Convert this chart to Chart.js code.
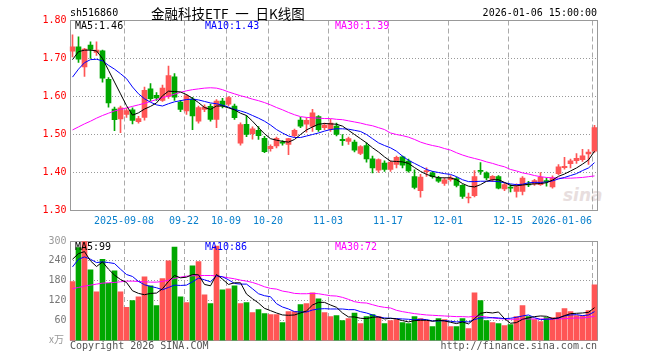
<!DOCTYPE html>
<html>
<head>
<meta charset="utf-8">
<script src="https://cdn.jsdelivr.net/npm/chart.js@4.4.1/dist/chart.umd.min.js"></script>
<style>
  html, body { margin: 0; padding: 0; background: #fff; }
  #wrap { position: relative; width: 660px; height: 360px; overflow: hidden; }
  canvas { position: absolute; left: 0; z-index: 1; }
  #priceCanvas { top: 0; }
  #volCanvas { top: 232px; }
  .t { position: absolute; z-index: 2; white-space: pre; font-family: "DejaVu Sans Mono", monospace;
       font-size: 10px; line-height: 12px; }
  .wm { position: absolute; z-index: 0; font: italic bold 17px "DejaVu Sans", sans-serif; color: #e8dede; }
</style>
</head>
<body>
<div id="wrap">
  <div class="wm" style="left:563px;top:185px;">sina</div>
  <canvas id="priceCanvas" width="660" height="232"></canvas>
  <canvas id="volCanvas" width="660" height="128"></canvas>

  <div class="t" style="left:70px;top:7px;color:#000;">sh516860</div>
  <div class="t" style="left:151px;top:5px;font:13.5px/16px 'Noto Sans CJK SC',sans-serif;color:#000;">金融科技ETF&ensp;一&ensp;日K线图</div>
  <div class="t" style="right:63px;top:7px;color:#000;">2026-01-06 15:00:00</div>

  <div class="t" style="left:75px;top:20px;color:#000;">MA5:1.46</div>
  <div class="t" style="left:205px;top:20px;color:#0000ff;">MA10:1.43</div>
  <div class="t" style="left:335px;top:20px;color:#ff00ff;">MA30:1.39</div>

  <div class="t" style="left:75px;top:241px;color:#000;">MA5:99</div>
  <div class="t" style="left:205px;top:241px;color:#0000ff;">MA10:86</div>
  <div class="t" style="left:335px;top:241px;color:#ff00ff;">MA30:72</div>

  <div class="t" style="left:49px;top:333px;font:10px/12px 'Noto Sans CJK SC',sans-serif;color:#999;">x万</div>
  <div class="t" style="left:70px;top:340px;color:#555;">Copyright 2026 SINA.COM</div>
  <div class="t" style="right:63px;top:340px;color:#555;">http://finance.sina.com.cn</div>
</div>

<script>
// trading days shown on the chart
const dates = [
  '2025-08-26','2025-08-27','2025-08-28','2025-08-29',
  '2025-09-01','2025-09-02','2025-09-03','2025-09-04','2025-09-05',
  '2025-09-08','2025-09-09','2025-09-10','2025-09-11','2025-09-12',
  '2025-09-15','2025-09-16','2025-09-17','2025-09-18','2025-09-19',
  '2025-09-22','2025-09-23','2025-09-24','2025-09-25','2025-09-26',
  '2025-09-29','2025-09-30',
  '2025-10-09','2025-10-10',
  '2025-10-13','2025-10-14','2025-10-15','2025-10-16','2025-10-17',
  '2025-10-20','2025-10-21','2025-10-22','2025-10-23','2025-10-24',
  '2025-10-27','2025-10-28','2025-10-29','2025-10-30','2025-10-31',
  '2025-11-03','2025-11-04','2025-11-05','2025-11-06','2025-11-07',
  '2025-11-10','2025-11-11','2025-11-12','2025-11-13','2025-11-14',
  '2025-11-17','2025-11-18','2025-11-19','2025-11-20','2025-11-21',
  '2025-11-24','2025-11-25','2025-11-26','2025-11-27','2025-11-28',
  '2025-12-01','2025-12-02','2025-12-03','2025-12-04','2025-12-05',
  '2025-12-08','2025-12-09','2025-12-10','2025-12-11','2025-12-12',
  '2025-12-15','2025-12-16','2025-12-17','2025-12-18','2025-12-19',
  '2025-12-22','2025-12-23','2025-12-24','2025-12-25','2025-12-26',
  '2025-12-29','2025-12-30','2025-12-31',
  '2026-01-05','2026-01-06'
];

// dates with a vertical guide, and the text written under them
const tickDates = ['2025-09-08','2025-09-22','2025-10-09','2025-10-20','2025-11-03',
                   '2025-11-17','2025-12-01','2025-12-15','2026-01-06'];
const tickLabels = ['2025-09-08','09-22','10-09','10-20','11-03','11-17','12-01','12-15','2026-01-06'];

const open = [
  1.719,1.731,1.678,1.735,1.716,1.720,1.645,1.567,1.541,1.553,
  1.565,1.534,1.545,1.620,1.603,1.590,1.600,1.652,1.585,1.562,
  1.593,1.535,1.566,1.574,1.540,1.588,1.580,1.575,1.477,1.527,
  1.502,1.511,1.490,1.463,1.470,1.480,1.474,1.497,1.538,1.527,
  1.521,1.547,1.518,1.514,1.522,1.487,1.482,1.480,1.450,1.471,
  1.436,1.406,1.425,1.408,1.421,1.441,1.430,1.389,1.352,1.402,
  1.399,1.386,1.371,1.381,1.384,1.366,1.333,1.339,1.405,1.399,
  1.381,1.389,1.357,1.361,1.350,1.350,1.370,1.370,1.368,1.378,
  1.362,1.397,1.413,1.423,1.431,1.434,1.449,1.456
];
const high = [
  1.762,1.757,1.727,1.744,1.744,1.722,1.650,1.572,1.575,1.568,
  1.570,1.548,1.625,1.634,1.610,1.630,1.680,1.660,1.590,1.606,
  1.598,1.575,1.578,1.580,1.592,1.595,1.600,1.580,1.531,1.550,
  1.520,1.521,1.495,1.473,1.493,1.484,1.490,1.514,1.545,1.544,
  1.566,1.550,1.530,1.540,1.530,1.500,1.493,1.485,1.471,1.478,
  1.443,1.436,1.431,1.431,1.443,1.443,1.435,1.407,1.395,1.412,
  1.403,1.390,1.386,1.392,1.388,1.368,1.346,1.405,1.426,1.402,
  1.392,1.392,1.372,1.368,1.370,1.389,1.377,1.382,1.400,1.385,
  1.391,1.421,1.440,1.435,1.450,1.461,1.460,1.524
];
const low = [
  1.704,1.690,1.653,1.700,1.708,1.638,1.572,1.510,1.505,1.545,
  1.528,1.530,1.538,1.589,1.590,1.587,1.595,1.590,1.560,1.553,
  1.513,1.530,1.560,1.535,1.518,1.570,1.575,1.540,1.472,1.494,
  1.488,1.487,1.452,1.456,1.465,1.472,1.447,1.493,1.518,1.506,
  1.508,1.508,1.513,1.508,1.496,1.471,1.474,1.454,1.447,1.427,
  1.399,1.400,1.403,1.403,1.412,1.412,1.401,1.357,1.335,1.390,
  1.385,1.374,1.366,1.377,1.362,1.332,1.320,1.336,1.395,1.381,
  1.376,1.357,1.352,1.349,1.335,1.341,1.363,1.366,1.366,1.364,
  1.359,1.394,1.409,1.412,1.424,1.429,1.421,1.453
];
const close = [
  1.731,1.698,1.725,1.724,1.722,1.648,1.583,1.539,1.570,1.563,
  1.537,1.542,1.616,1.594,1.596,1.622,1.655,1.598,1.566,1.602,
  1.549,1.571,1.572,1.540,1.588,1.575,1.597,1.544,1.526,1.500,
  1.515,1.497,1.455,1.469,1.490,1.477,1.489,1.511,1.522,1.537,
  1.557,1.513,1.525,1.530,1.500,1.484,1.489,1.459,1.468,1.436,
  1.412,1.434,1.408,1.427,1.440,1.419,1.404,1.361,1.388,1.405,
  1.389,1.377,1.381,1.386,1.366,1.337,1.335,1.389,1.403,1.386,
  1.390,1.359,1.368,1.359,1.363,1.385,1.367,1.379,1.387,1.376,
  1.385,1.415,1.416,1.431,1.437,1.444,1.454,1.518
];

// moving averages
const ma5 = [
  1.697,1.718,1.722,1.722,1.720,1.700,1.669,1.638,1.607,1.576,1.551,1.557,1.567,1.574,1.583,
  1.602,1.614,1.613,1.612,1.605,1.595,1.584,1.571,1.566,1.575,1.575,1.570,1.565,1.556,
  1.550,1.535,1.518,1.502,1.489,1.485,1.482,1.480,1.487,1.500,1.512,1.520,1.527,1.529,1.528,
  1.527,1.522,1.511,1.500,1.489,1.478,1.465,1.454,1.441,1.430,1.429,1.428,1.424,1.413,1.403,
  1.395,1.390,1.386,1.386,1.386,1.381,1.371,1.364,1.362,1.368,1.377,1.381,1.381,1.374,1.366,
  1.365,1.367,1.369,1.370,1.371,1.373,1.380,1.390,1.396,1.404,1.412,1.422,1.433,1.456
];
const ma10 = [
  1.651,1.672,1.689,1.697,1.698,1.694,1.682,1.672,1.660,1.647,1.625,1.607,1.594,1.585,1.578,
  1.575,1.581,1.586,1.589,1.592,1.593,1.591,1.587,1.583,1.581,1.577,1.572,1.566,1.562,
  1.557,1.550,1.543,1.535,1.525,1.513,1.504,1.496,1.492,1.492,1.496,1.500,1.504,1.509,1.513,
  1.515,1.515,1.514,1.511,1.508,1.500,1.489,1.478,1.471,1.465,1.456,1.443,1.432,1.424,1.416,
  1.408,1.403,1.400,1.397,1.395,1.389,1.381,1.376,1.376,1.377,1.377,1.377,1.376,1.373,1.370,
  1.368,1.369,1.373,1.374,1.374,1.375,1.378,1.383,1.387,1.392,1.397,1.405,1.412,1.426
];
const ma30 = [
  1.512,1.520,1.528,1.535,1.543,1.550,1.556,1.562,1.566,1.570,1.574,1.578,1.582,1.587,1.592,
  1.597,1.601,1.606,1.611,1.615,1.618,1.620,1.622,1.623,1.622,1.618,1.612,1.607,1.602,
  1.598,1.593,1.589,1.584,1.578,1.571,1.565,1.558,1.552,1.547,1.545,1.544,1.543,1.542,1.542,
  1.540,1.539,1.536,1.533,1.530,1.526,1.523,1.518,1.513,1.504,1.500,1.497,1.493,1.487,1.480,
  1.475,1.471,1.468,1.463,1.459,1.452,1.446,1.441,1.437,1.433,1.428,1.424,1.419,1.415,1.408,
  1.404,1.399,1.396,1.392,1.389,1.387,1.386,1.385,1.385,1.385,1.386,1.387,1.389,1.391
];

// volume, in 万 shares
const volume = [
  178,280,298,213,147,245,172,210,147,100,
  120,132,192,165,105,187,240,282,132,114,
  225,238,138,111,285,153,156,165,111,114,
  84,93,81,78,78,54,87,87,108,111,
  144,126,84,72,75,60,66,83,51,72,
  78,72,51,60,63,54,51,72,66,60,
  42,66,63,42,42,66,36,144,120,60,
  54,51,45,48,72,105,72,63,57,69,
  69,84,96,87,75,75,90,168
];
const volMa5 = [
  245,262,268,240,223,237,215,197,184,175,150,142,138,142,143,156,178,196,189,191,
  199,198,169,165,199,185,169,174,174,140,126,113,97,90,83,77,76,77,83,89,
  107,115,115,107,100,83,71,71,67,66,70,71,65,67,65,60,56,60,61,61,
  58,61,59,55,51,56,50,66,82,85,83,86,66,52,54,64,68,72,74,73,
  66,68,75,81,82,83,85,99
];
const volMa10 = [
  222,245,252,245,235,237,235,232,215,199,193,178,168,163,159,153,160,167,166,167,
  177,188,183,177,195,192,183,172,170,170,156,141,135,132,111,101,95,87,86,86,
  92,95,96,95,95,95,93,93,87,83,77,71,68,67,66,65,64,62,64,63,
  59,59,60,58,56,57,56,63,68,68,69,68,66,67,70,74,77,69,63,64,
  65,68,74,77,78,75,77,87
];
const volMa30 = [
  156,160,164,167,170,173,174,175,177,179,179,178,177,176,176,178,182,187,191,194,
  195,196,196,196,195,192,189,186,182,179,175,169,162,157,155,149,146,142,141,141,
  142,141,138,135,134,130,124,117,114,113,108,103,100,98,91,87,84,81,79,77,
  76,75,74,73,72,72,71,73,73,71,68,66,65,64,64,65,65,65,65,65,
  65,65,66,67,68,68,70,73
];

const UP = '#ff5555';
const DOWN = '#00a800';
const barColors = close.map((c, i) => (c >= open[i] ? UP : DOWN));

Chart.defaults.font.family = '"DejaVu Sans Mono", monospace';
Chart.defaults.font.size = 10;

// dashed date guides and the grey frame of each panel
const panelPlugin = {
  id: 'panel',
  beforeDatasetsDraw(chart) {
    const { ctx, chartArea: a } = chart;
    const x = chart.scales.x;
    ctx.save();
    ctx.lineWidth = 1;
    ctx.strokeStyle = '#aaa';
    ctx.setLineDash([5, 3]);
    tickDates.forEach(d => {
      const px = Math.round(x.getPixelForValue(dates.indexOf(d)) - 2.5) + 0.5;
      ctx.beginPath();
      ctx.moveTo(px, a.top);
      ctx.lineTo(px, a.bottom);
      ctx.stroke();
    });
    ctx.setLineDash([]);
    ctx.strokeStyle = '#999';
    const x0 = Math.ceil(a.left) + 0.5, x1 = Math.floor(a.right) + 0.5;
    const y0 = Math.floor(a.top) + 0.5, y1 = Math.floor(a.bottom) + 0.5;
    ctx.strokeRect(x0, y0, x1 - x0, y1 - y0);
    ctx.restore();
  }
};

// date labels under the price panel
const dateLabelPlugin = {
  id: 'dateLabels',
  afterDraw(chart) {
    const { ctx, chartArea: a } = chart;
    const x = chart.scales.x;
    ctx.save();
    ctx.font = '10px "DejaVu Sans Mono", monospace';
    ctx.fillStyle = '#0a80cc';
    ctx.textBaseline = 'middle';
    tickDates.forEach((d, k) => {
      const px = Math.round(x.getPixelForValue(dates.indexOf(d)) - 2.5);
      ctx.textAlign = k === tickDates.length - 1 ? 'right' : 'center';
      ctx.fillText(tickLabels[k], px, a.bottom + 11);
    });
    ctx.restore();
  }
};

function maLine(data, color) {
  return { type: 'line', data, borderColor: color, borderWidth: 1, pointRadius: 0, tension: 0, order: 0 };
}

const fixedWidth = scale => { scale.width = 69; };

// price (K line) panel
new Chart(document.getElementById('priceCanvas').getContext('2d'), {
  type: 'bar',
  data: {
    labels: dates,
    datasets: [
      maLine(ma5, '#000000'),
      maLine(ma10, '#0000ff'),
      maLine(ma30, '#ff00ff'),
      {
        data: open.map((o, i) => [o, close[i]]),
        backgroundColor: barColors,
        barThickness: 5,
        minBarLength: 1,
        grouped: false,
        order: 1
      },
      {
        data: low.map((l, i) => [l, high[i]]),
        backgroundColor: barColors,
        barThickness: 1,
        grouped: false,
        order: 2
      }
    ]
  },
  options: {
    responsive: false,
    devicePixelRatio: 1,
    animation: false,
    events: [],
    layout: { padding: { left: 0.5, right: 62.5, top: 20.5, bottom: 21.5 } },
    plugins: { legend: { display: false }, tooltip: { enabled: false } },
    scales: {
      x: { display: false, offset: true },
      y: {
        min: 1.30,
        max: 1.80,
        afterFit: fixedWidth,
        border: { display: false, dash: [1, 2] },
        grid: {
          drawTicks: false,
          color: c => (c.index === 0 || c.index === c.scale.ticks.length - 1) ? 'rgba(0,0,0,0)' : '#999'
        },
        ticks: { stepSize: 0.1, padding: 3, color: '#ff0000', callback: v => v.toFixed(2) }
      }
    }
  },
  plugins: [panelPlugin, dateLabelPlugin]
});

// volume panel
new Chart(document.getElementById('volCanvas').getContext('2d'), {
  type: 'bar',
  data: {
    labels: dates,
    datasets: [
      maLine(volMa5, '#000000'),
      maLine(volMa10, '#0000ff'),
      maLine(volMa30, '#ff00ff'),
      {
        data: volume,
        backgroundColor: barColors,
        barThickness: 5,
        grouped: false,
        order: 1
      }
    ]
  },
  options: {
    responsive: false,
    devicePixelRatio: 1,
    animation: false,
    events: [],
    layout: { padding: { left: 0.5, right: 62.5, top: 8.5, bottom: 19.5 } },
    plugins: { legend: { display: false }, tooltip: { enabled: false } },
    scales: {
      x: { display: false, offset: true },
      y: {
        min: 0,
        max: 300,
        afterFit: fixedWidth,
        border: { display: false, dash: [1, 2] },
        grid: {
          drawTicks: false,
          color: c => (c.index === c.scale.ticks.length - 1) ? 'rgba(0,0,0,0)' : '#999'
        },
        ticks: {
          stepSize: 60,
          padding: 3,
          color: c => (c.tick && c.tick.value === 300) ? '#999' : '#777',
          callback: v => (v === 0 ? null : v)
        }
      }
    }
  },
  plugins: [panelPlugin]
});
</script>
</body>
</html>
